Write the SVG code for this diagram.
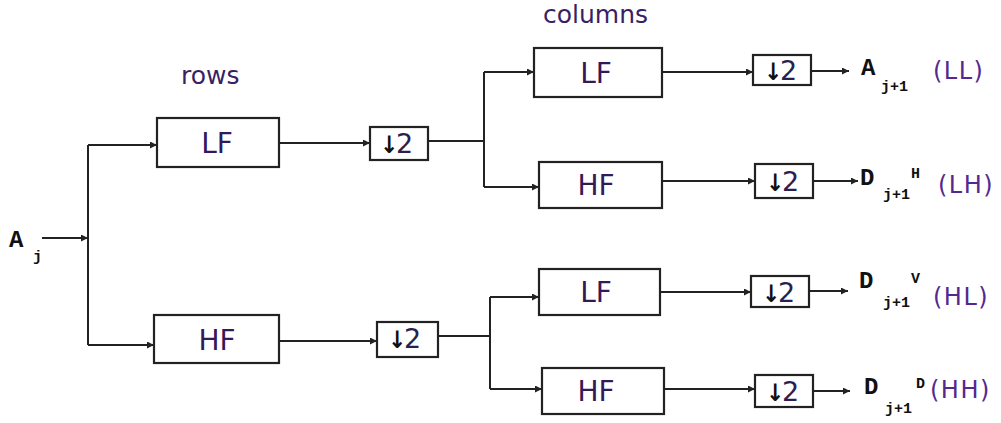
<svg xmlns="http://www.w3.org/2000/svg" width="1001" height="423" viewBox="0 0 1001 423">
<style>
.box{fill:#fff;stroke:#222;stroke-width:2.2}
.lbl{font-family:"DejaVu Sans",Verdana,sans-serif;font-size:28px;fill:#33195a;text-anchor:middle}
.two{font-family:"DejaVu Sans",Verdana,sans-serif;font-size:27px;fill:#2a1f50}
.arr{font-stretch:condensed;font-weight:bold;font-size:24px;fill:#111}
.hd{font-family:"DejaVu Sans",Verdana,sans-serif;font-size:25px;fill:#3a1f63}
.par{font-family:"DejaVu Sans",Verdana,sans-serif;font-size:24px;fill:#55288f;letter-spacing:1.5px}
.sym{font-family:"Liberation Mono","Courier New",monospace;font-weight:bold;font-size:24px;fill:#111}
.sub{font-family:"Liberation Mono","Courier New",monospace;font-weight:bold;font-size:15px;fill:#111}
.ln{fill:none;stroke:#222;stroke-width:2}
</style>
<defs>
<marker id="ah" viewBox="0 0 10 10" refX="10" refY="5" markerWidth="9" markerHeight="7" markerUnits="userSpaceOnUse" orient="auto">
<path d="M0,0 L10,5 L0,10 z" fill="#222"/>
</marker>
</defs>
<text class="hd" x="181" y="84">rows</text>
<text class="hd" x="543" y="23">columns</text>
<g id="connectors">
<path class="ln" d="M42,238 H88" marker-end="url(#ah)"/>
<path class="ln" d="M88,145 V345"/>
<path class="ln" d="M88,145 H157" marker-end="url(#ah)"/>
<path class="ln" d="M88,345 H154" marker-end="url(#ah)"/>
<path class="ln" d="M279,143 H370" marker-end="url(#ah)"/>
<path class="ln" d="M279,341 H377" marker-end="url(#ah)"/>
<path class="ln" d="M428,141 H484"/>
<path class="ln" d="M484,72 V187"/>
<path class="ln" d="M484,72 H534" marker-end="url(#ah)"/>
<path class="ln" d="M484,187 H539" marker-end="url(#ah)"/>
<path class="ln" d="M438,336 H490"/>
<path class="ln" d="M490,297 V389"/>
<path class="ln" d="M490,297 H539" marker-end="url(#ah)"/>
<path class="ln" d="M490,389 H542" marker-end="url(#ah)"/>
<path class="ln" d="M662,72 H753" marker-end="url(#ah)"/>
<path class="ln" d="M662,181 H755" marker-end="url(#ah)"/>
<path class="ln" d="M660,292 H751" marker-end="url(#ah)"/>
<path class="ln" d="M664,389 H755" marker-end="url(#ah)"/>
<path class="ln" d="M811,71 H849" marker-end="url(#ah)"/>
<path class="ln" d="M813,181 H858" marker-end="url(#ah)"/>
<path class="ln" d="M809,291 H848" marker-end="url(#ah)"/>
<path class="ln" d="M813,391 H850" marker-end="url(#ah)"/>
</g>
<g id="Aj">
<text class="sym" x="9" y="247">A</text>
<text class="sub" x="33" y="261">j</text>
</g>
<g id="rowLF"><rect class="box" x="157" y="118" width="122" height="49"/><text class="lbl" x="217" y="153">LF</text></g>
<g id="rowHF"><rect class="box" x="154" y="315" width="125" height="48"/><text class="lbl" x="217" y="350">HF</text></g>
<g id="rowDS1"><rect class="box" x="370" y="127" width="58" height="33"/><text class="two" x="380" y="153"><tspan class="arr">↓</tspan><tspan dx="-2">2</tspan></text></g>
<g id="rowDS2"><rect class="box" x="377" y="322" width="61" height="35"/><text class="two" x="388" y="348"><tspan class="arr">↓</tspan><tspan dx="-2">2</tspan></text></g>
<g id="colLF1"><rect class="box" x="534" y="48" width="128" height="49"/><text class="lbl" x="596" y="83">LF</text></g>
<g id="colHF1"><rect class="box" x="539" y="162" width="123" height="46"/><text class="lbl" x="596" y="195">HF</text></g>
<g id="colLF2"><rect class="box" x="539" y="269" width="121" height="46"/><text class="lbl" x="596" y="302">LF</text></g>
<g id="colHF2"><rect class="box" x="542" y="368" width="122" height="46"/><text class="lbl" x="596" y="401">HF</text></g>
<g id="ds3"><rect class="box" x="753" y="55" width="58" height="30"/><text class="two" x="764" y="80"><tspan class="arr">↓</tspan><tspan dx="-2">2</tspan></text></g>
<g id="ds4"><rect class="box" x="755" y="164" width="58" height="34"/><text class="two" x="766" y="191"><tspan class="arr">↓</tspan><tspan dx="-2">2</tspan></text></g>
<g id="ds5"><rect class="box" x="751" y="276" width="58" height="31"/><text class="two" x="762" y="302"><tspan class="arr">↓</tspan><tspan dx="-2">2</tspan></text></g>
<g id="ds6"><rect class="box" x="755" y="375" width="58" height="32"/><text class="two" x="766" y="401"><tspan class="arr">↓</tspan><tspan dx="-2">2</tspan></text></g>
<g id="outLL"><text class="sym" x="861" y="75">A</text><text class="sub" x="881" y="91">j+1</text><text class="par" x="933" y="79">(LL)</text></g>
<g id="outLH"><text class="sym" x="860" y="185">D</text><text class="sub" x="883" y="199">j+1</text><text class="sub" x="911" y="178">H</text><text class="par" x="938" y="193">(LH)</text></g>
<g id="outHL"><text class="sym" x="859" y="288">D</text><text class="sub" x="883" y="307">j+1</text><text class="sub" x="911" y="283">V</text><text class="par" x="933" y="305">(HL)</text></g>
<g id="outHH"><text class="sym" x="864" y="394">D</text><text class="sub" x="885" y="413">j+1</text><text class="sub" x="916" y="388">D</text><text class="par" x="930" y="398">(HH)</text></g>
</svg>
